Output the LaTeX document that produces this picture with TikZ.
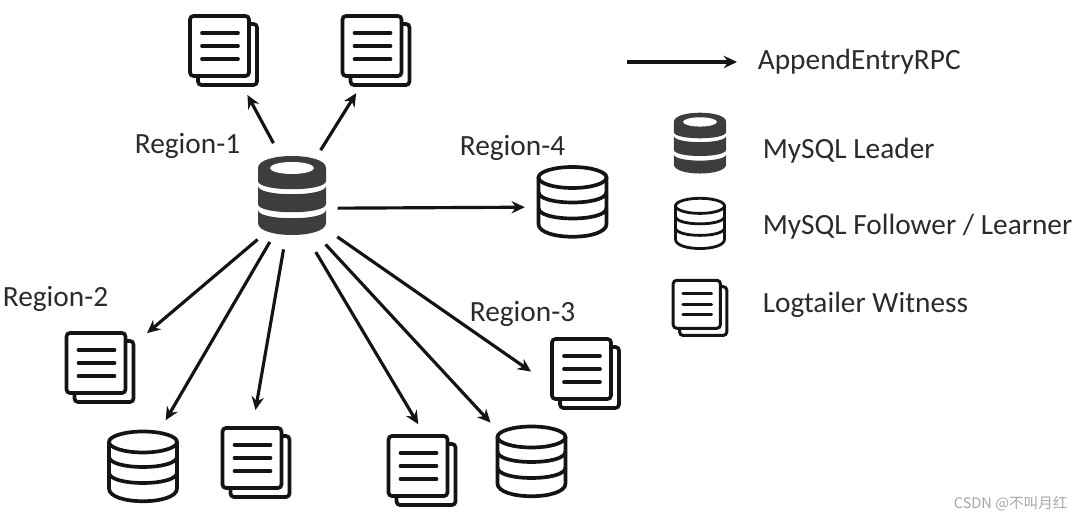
\documentclass[tikz,border=0pt]{standalone}
\usepackage{fontspec}
\setmainfont{Carlito}
\newfontfamily\cjkfont{Noto Sans CJK SC}
\usetikzlibrary{arrows.meta}
\definecolor{leaderdark}{HTML}{3D3D3D}
\definecolor{iconblack}{HTML}{141414}
\definecolor{labelgray}{HTML}{2B2B2B}
\tikzset{
hitarea/.style={circle,inner sep=0pt,outer sep=0pt,minimum size=2cm},
leaderarea/.style={circle,inner sep=0pt,outer sep=0pt,minimum size=2.16cm},
rpcarrow/.style={-{Stealth[length=7.5pt,width=7pt]},line width=1.8pt,draw=iconblack},
textlabel/.style={anchor=base west,inner sep=0pt,text=labelgray,font=\fontsize{16.7}{18}\selectfont},
marklabel/.style={anchor=base west,inner sep=0pt,text=black!35,font=\cjkfont\fontsize{8.3}{10}\selectfont},
docicon/.pic={
\node[hitarea] (-hit) at (0,0) {};
\draw[iconblack,rounded corners=2pt] (-33.5,-34) rectangle (25.5,26);
\draw[iconblack,rounded corners=2pt] (25.5,-26) -- (33.5,-26) -- (33.5,35) -- (-25.5,35) -- (-25.5,26);
\foreach \liney in {-17,-4,9}
\draw[iconblack,line cap=round] (-21.5,\liney) -- (14.5,\liney);
},
dbicon/.pic={
\node[hitarea] (-hit) at (0,0) {};
\draw[iconblack] (0,-24.5) ellipse [x radius=34,y radius=10.5];
\draw[iconblack] (-34,-24.5) -- (-34,22) .. controls (-34,39) and (34,39) .. (34,22) -- (34,-24.5);
\draw[iconblack] (-34,-10) .. controls (-34,4) and (34,4) .. (34,-10);
\draw[iconblack] (-34,6) .. controls (-34,20) and (34,20) .. (34,6);
},
leadericon/.pic={
\node[leaderarea] (-hit) at (0,0) {};
\fill[leaderdark] (-34,-28) .. controls (-34,-44) and (34,-44) .. (34,-28) -- (34,-15) .. controls (34,-4) and (-34,-4) .. (-34,-15) -- cycle;
\fill[white] (0,-28) ellipse [x radius=22,y radius=6];
\fill[leaderdark] (-34,-10) .. controls (-34,1) and (34,1) .. (34,-10) -- (34,8) .. controls (34,19) and (-34,19) .. (-34,8) -- cycle;
\fill[leaderdark] (-34,14) .. controls (-34,25) and (34,25) .. (34,14) -- (34,27) .. controls (34,43) and (-34,43) .. (-34,27) -- cycle;
}
}
\begin{document}
\begin{tikzpicture}[x=0.02cm,y=-0.02cm,line width=2.1pt]
\useasboundingbox (0,0) rectangle (1080,519);
% region 1
\pic (leader) at (292,196) {leadericon};
\pic (witnessa) at (223.5,50) {docicon};
\pic (witnessb) at (376,50) {docicon};
% region 2
\pic (witnessc) at (100,367) {docicon};
\pic (followera) at (143,466.5) {dbicon};
\pic (witnessd) at (256,462) {docicon};
% region 3
\pic (witnesse) at (422,470) {docicon};
\pic (followerb) at (531.5,461.5) {dbicon};
\pic (witnessf) at (585.5,373) {docicon};
% region 4
\pic (followerc) at (572.5,202) {dbicon};
% connectors
\draw[rpcarrow,shorten <=.04cm,shorten >=.02cm] (leader-hit.109) -- (witnessa-hit.-62);
\draw[rpcarrow,shorten >=-.05cm] (leader-hit.58.7) -- (witnessb-hit.-115);
\draw[rpcarrow,shorten <=-.14cm,shorten >=-.04cm] (leader-hit.-13.4) -- (followerc-hit.186);
\draw[rpcarrow,shorten <=.03cm,shorten >=.16cm] (leader-hit.232.3) -- (witnessc-hit.35.9);
\draw[rpcarrow,shorten <=-.06cm,shorten >=.03cm] (leader-hit.244.4) -- (followera-hit.64.7);
\draw[rpcarrow,shorten >=.04cm] (leader-hit.261.4) -- (witnessd-hit.91);
\draw[rpcarrow,shorten <=.14cm,shorten >=-.09cm] (leader-hit.-68.9) -- (witnesse-hit.97.6);
\draw[rpcarrow,shorten <=.1cm,shorten >=.13cm] (leader-hit.-56) -- (followerb-hit.137.1);
\draw[rpcarrow,shorten <=.14cm,shorten >=.11cm] (leader-hit.-43.7) -- (witnessf-hit.182);
% region labels
\node (labela) at (133,154) [textlabel] {Region-1};
\node (labelb) at (1,307) [textlabel] {Region-2};
\node (labelc) at (468,322) [textlabel] {Region-3};
\node (labeld) at (458,156) [textlabel] {Region-4};
% legend
\coordinate (legstart) at (627,62);
\coordinate (legend) at (737,62);
\draw[rpcarrow] (legstart) -- (legend);
\pic[scale=.77] (legleader) at (700,143.5) {leadericon};
\pic[scale=.72,line width=1.6pt] (legfollower) at (700,223.5) {dbicon};
\pic[scale=.8,line width=1.7pt] (legwitness) at (700,307.5) {docicon};
\node (textrpc) at (756,70) [textlabel] {AppendEntryRPC};
\node (textleader) at (761,159) [textlabel] {MySQL Leader};
\node (textfollower) at (761,235) [textlabel] {MySQL Follower / Learner};
\node (textwitness) at (761,313) [textlabel] {Logtailer Witness};
\node (watermark) at (952,509) [marklabel] {CSDN @不叫月红};
\end{tikzpicture}
\end{document}
